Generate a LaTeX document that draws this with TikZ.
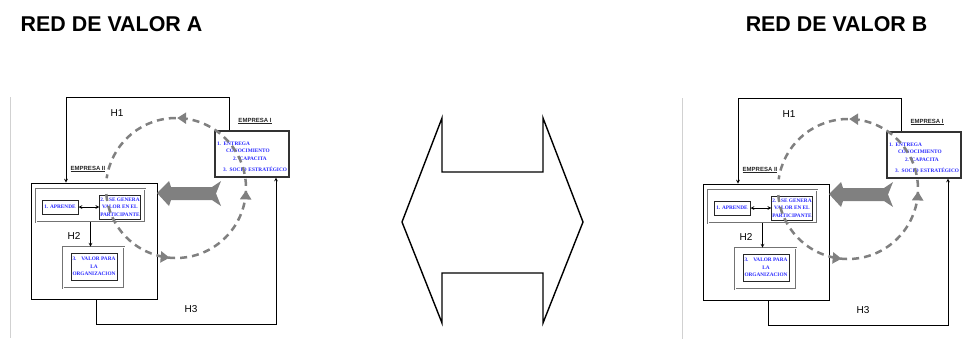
\documentclass[tikz,border=0pt]{standalone}
\usepackage{fontspec}
\setmainfont{Liberation Sans}
\newfontfamily\serifb{Liberation Serif}
\usetikzlibrary{arrows.meta,decorations.markings}
\definecolor{txtblue}{RGB}{40,40,255}
\definecolor{ringgray}{RGB}{128,128,128}
\begin{document}
\begin{tikzpicture}[x=1pt, y=-1pt, >=stealth, line width=0.7pt,
    title/.style={font=\fontsize{21.4}{24}\selectfont\bfseries},
    hlabel/.style={font=\fontsize{10}{12}\selectfont},
    emp/.style={font=\fontsize{6}{7}\selectfont\bfseries, text=black!85, inner sep=1pt},
    bluetxt/.style={font=\serifb\bfseries\fontsize{5.3}{7.6}\selectfont, text=txtblue, align=center, inner sep=0.5pt},
    dblbox/.style={draw=black!55, double=white, double distance=0.9pt, line width=0.7pt, fill=white},
    thickbox/.style={bluetxt, draw=black!85, line width=1pt, fill=white},
    ring/.style={draw=ringgray, line width=2.5pt, dash pattern=on 7pt off 5pt,
        postaction={decorate},
        decoration={markings,
            mark=at position 0.23 with {\arrow[ringgray]{Triangle[length=9pt,width=11pt]}},
            mark=at position 0.4986 with {\arrow[ringgray]{Triangle[length=9pt,width=11pt]}},
            mark=at position 0.761 with {\arrow[ringgray]{Triangle[length=9pt,width=11pt]}}}}]
    \useasboundingbox (0,0) rectangle (969,338);
    \node[title] (titA) at (111.5,24.5) {RED DE VALOR A};
    \node[title] (titB) at (836.5,24.5) {RED DE VALOR B};
    % double arrow in the middle
    \draw[line width=1.4pt, line join=miter] (402,222) -- (442,118) -- (442,172) -- (543,172) -- (543,118)
        -- (583,222) -- (543,323) -- (543,273) -- (442,273) -- (442,323) -- cycle;
    \foreach \p/\dx/\dy in {A/0/0,B/672/1}{
    \begin{scope}[shift={(\dx,\dy)}]
        \draw[black!18, line width=1.5pt] (10.5,97) -- (10.5,338);
        \node[dblbox, minimum width=109pt, minimum height=33pt] (\p in) at (90.5,205.5) {};
        \node[dblbox, minimum width=61pt, minimum height=41pt] (\p lo) at (93.5,267.5) {};
        \node[draw=black, line width=0.9pt, minimum width=126pt, minimum height=116pt] (\p e2) at (94,241) {};
        \node[draw=black!80, line width=1.1pt, minimum width=74pt, minimum height=46pt] (\p e1) at (252,154) {};
        \node[bluetxt, align=left, text width=71pt] (\p e1t) at (252.5,156.5) {1. ENTREGA\\
            \hspace*{9pt}CONOCIMIENTO\\
            \hspace*{16pt}2. CAPACITA\\[3pt]
            \hspace*{6pt}3. SOCIO ESTRATÉGICO};
        \node[thickbox, minimum width=36pt, minimum height=14pt] (\p apr) at (60,207) {1. APRENDE};
        \node[thickbox, minimum width=38pt, minimum height=24pt] (\p gen) at (120,207) {2.\hspace{0.9em}SE GENERA\\VALOR EN EL\\PARTICIPANTE};
        \node[thickbox, minimum width=46pt, minimum height=27pt] (\p val) at (94,266.5) {3.\hspace{0.9em}VALOR PARA\\LA\\ORGANIZACION};
        \node[emp] (\p e1l) at (255,121) {\underline{EMPRESA I}};
        \node[emp] (\p e2l) at (88,169) {\underline{EMPRESA II}};
        \node[hlabel] (\p h1l) at (117,113) {H1};
        \node[hlabel] (\p h2l) at (74,236) {H2};
        \node[hlabel] (\p h3l) at (191,309) {H3};
        \coordinate (\p h1a) at (229,97);
        \coordinate (\p h1b) at (66,97);
        \coordinate (\p h3a) at (96,324);
        \coordinate (\p h3b) at (276,324);
        \draw[->] (\p h1a |- \p e1.north) -- (\p h1a) -- (\p h1b) -- (\p h1b |- \p e2.north);
        \draw[->] (\p e2.south -| \p h3a) -- (\p h3a) -- (\p h3b) -- (\p h3b |- \p e1.south);
        \draw[->] (\p in.south) -- (\p in.south |- \p lo.north);
        \draw[<->] (\p apr) -- (\p gen);
        % grey arrow towards empresa II
        \fill[ringgray] (157,193) -- (169,181) -- (171,187) -- (212,187) -- (221,181) -- (216,193.5)
            -- (221,206) -- (212,200) -- (171,200) -- (169,206) -- cycle;
        \coordinate (\p c) at (176,188);
        \draw[ring] (\p c) ++(175:70) arc[start angle=175, end angle=-172, radius=70];
    \end{scope}
    }
\end{tikzpicture}
\end{document}
